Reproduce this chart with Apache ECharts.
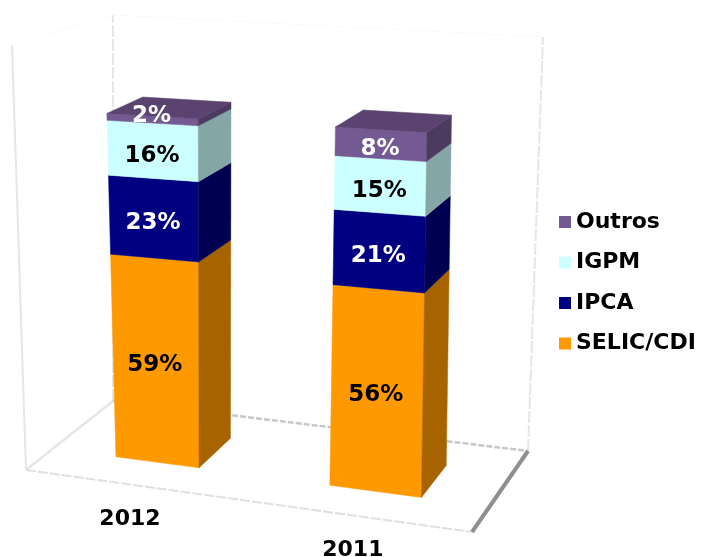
<!DOCTYPE html>
<html>
<head>
<meta charset="utf-8">
<script src="https://cdn.jsdelivr.net/npm/echarts@6/dist/echarts.min.js"></script>
<style>
html, body { margin: 0; padding: 0; background: #fff; }
#chart { width: 704px; height: 557px; }
</style>
</head>
<body>
<div id="chart"></div>
<script>
var categories = ['2012', '2011'];
var seriesNames = ['SELIC/CDI', 'IPCA', 'IGPM', 'Outros'];
var selicValues = [59, 56];
var ipcaValues = [23, 21];
var igpmValues = [16, 15];
var outrosValues = [2, 8];
var legendOrder = ['Outros', 'IGPM', 'IPCA', 'SELIC/CDI'];

var seriesValues = [selicValues, ipcaValues, igpmValues, outrosValues];
var frontColors = ['#ff9900', '#000080', '#ccffff', '#735a93'];
var sideColors = ['#a66300', '#000053', '#85a6a6', '#4c3b60'];
var labelColors = ['#000', '#fff', '#000', '#fff'];
var topColor = '#5a4370';
var yMax = 120;

// perspective: unit square of the floor -> screen
function quad(p) {
    var dx1 = p[1][0] - p[2][0], dy1 = p[1][1] - p[2][1];
    var dx2 = p[3][0] - p[2][0], dy2 = p[3][1] - p[2][1];
    var sx = p[0][0] - p[1][0] + p[2][0] - p[3][0];
    var sy = p[0][1] - p[1][1] + p[2][1] - p[3][1];
    var den = dx1 * dy2 - dx2 * dy1;
    var g = (sx * dy2 - dx2 * sy) / den;
    var h = (dx1 * sy - sx * dy1) / den;
    var a = p[1][0] - p[0][0] + g * p[1][0], b = p[3][0] - p[0][0] + h * p[3][0];
    var d = p[1][1] - p[0][1] + g * p[1][1], e = p[3][1] - p[0][1] + h * p[3][1];
    return function (u, v) {
        var w = g * u + h * v + 1;
        return [(a * u + b * v + p[0][0]) / w, (d * u + e * v + p[0][1]) / w];
    };
}
// the 100% plane reads better as a plain bilinear patch
function patch(p) {
    return function (u, v) {
        return [0, 1].map(function (i) {
            return (1 - v) * ((1 - u) * p[0][i] + u * p[1][i]) + v * ((1 - u) * p[3][i] + u * p[2][i]);
        });
    };
}
var floor = quad([[26, 470], [472, 532], [528, 451], [113, 401]]);
var plane100 = patch([[7.5, 121], [476.5, 149], [531.5, 106], [102.5, 81]]);

function project(u, v, pct) {
    var f = floor(u, v), t = plane100(u, v);
    return [f[0] + (t[0] - f[0]) * pct / 100, f[1] + (t[1] - f[1]) * pct / 100];
}

var depthFront = 0.295, depthBack = 0.70, uShift = 0.006;

function renderSegment(params, api) {
    var cs = params.coordSys;
    var s = params.seriesIndex - 1;
    var start = api.coord([api.value(0), api.value(1)]);
    var end = api.coord([api.value(0), api.value(2)]);
    var pct0 = (cs.y + cs.height - start[1]) / cs.height * yMax;
    var pct1 = (cs.y + cs.height - end[1]) / cs.height * yMax;
    var half = api.size([1, 0])[0] * 0.2 / cs.width;
    var uc = (start[0] - cs.x) / cs.width + uShift;
    var u0 = uc - half, u1 = uc + half;
    var children = [
        { type: 'polygon', shape: { points: [project(u0, depthFront, pct0), project(u1, depthFront, pct0), project(u1, depthFront, pct1), project(u0, depthFront, pct1)] },
          style: { fill: frontColors[s], stroke: frontColors[s], lineWidth: 0.5 } },
        { type: 'polygon', shape: { points: [project(u1, depthFront, pct0), project(u1, depthBack, pct0), project(u1, depthBack, pct1), project(u1, depthFront, pct1)] },
          style: { fill: sideColors[s], stroke: sideColors[s], lineWidth: 0.5 } }
    ];
    if (s === seriesNames.length - 1) {
        children.push({ type: 'polygon', shape: { points: [project(u0, depthFront, pct1), project(u1, depthFront, pct1), project(u1, depthBack, pct1), project(u0, depthBack, pct1)] },
            style: { fill: topColor, stroke: topColor, lineWidth: 0.5 } });
    }
    var mid = project(uc, depthFront, (pct0 + pct1) / 2);
    // thin segments get the label pushed up over the top face
    var dy = api.value(3) < 5 ? -4 : 5;
    children.push({ type: 'text', x: mid[0] - 1, y: mid[1] + dy, style: {
        text: api.value(3) + '%', fill: labelColors[s], align: 'center', verticalAlign: 'middle',
        font: 'bold 23px "DejaVu Sans"' } });
    return { type: 'group', children: children };
}

function edge(a, b, stroke, width, dash) {
    return { type: 'line', shape: { x1: a[0], y1: a[1], x2: b[0], y2: b[1] },
        style: { stroke: stroke, lineWidth: width, lineDash: dash || null } };
}

function renderFrame(params, api) {
    var cs = params.coordSys;
    var fl = floor(0, 0), fr = floor(1, 0), br = floor(1, 1), bl = floor(0, 1);
    var tfl = [12, 45], tbl = [113, 15], tbr = [543, 37];
    var children = [
        edge(fl, tfl, '#e6e6e6', 2),
        edge(bl, tbl, '#e6e6e6', 2, [12, 2]),
        edge(br, tbr, '#e6e6e6', 2, [12, 2]),
        edge(tfl, tbl, '#f4f4f4', 1, [2, 2]),
        edge(tbl, tbr, '#f4f4f4', 1, [2, 2]),
        edge(fl, bl, '#e6e6e6', 2.5),
        edge(bl, br, '#c8c8c8', 2.5, [6, 2]),
        edge(fl, fr, '#e0e0e0', 2, [10, 2]),
        edge(fr, br, '#8f8f8f', 4)
    ];
    // year labels sit under the front edge of the floor
    categories.forEach(function (name, i) {
        var c = api.coord([i, 0]);
        var p = floor((c[0] - cs.x) / cs.width + uShift, 0);
        children.push({ type: 'text', x: p[0] - 2, y: p[1] + 35, style: {
            text: name, fill: '#000', align: 'center', verticalAlign: 'middle',
            font: 'bold 22px "DejaVu Sans"' } });
    });
    return { type: 'group', children: children };
}

var series = [{
    type: 'custom', name: 'frame', silent: true, clip: false,
    renderItem: renderFrame, data: [[0, 0]], encode: { x: 0, y: 1 }
}];
seriesNames.forEach(function (name, s) {
    var data = categories.map(function (c, i) {
        var base = 0;
        for (var k = 0; k < s; k++) { base += seriesValues[k][i]; }
        return [i, base, base + seriesValues[s][i], seriesValues[s][i]];
    });
    series.push({
        type: 'custom', name: name, clip: false, silent: true,
        itemStyle: { color: frontColors[s] },
        renderItem: renderSegment, data: data, encode: { x: 0, y: [1, 2] }
    });
});

var myChart = echarts.init(document.getElementById('chart'));
myChart.setOption({
    animation: false,
    grid: { left: 0, right: 0, top: 0, bottom: 0 },
    xAxis: { type: 'category', data: categories, show: false },
    yAxis: { type: 'value', min: 0, max: yMax, show: false },
    legend: {
        data: legendOrder, orient: 'vertical', left: 559, top: 211,
        icon: 'rect', itemWidth: 12, itemHeight: 12, itemGap: 18.5, padding: 0,
        selectedMode: false,
        textStyle: { fontFamily: 'DejaVu Sans', fontWeight: 'bold', fontSize: 22, color: '#000', lineHeight: 22 }
    },
    series: series
});
</script>
</body>
</html>
